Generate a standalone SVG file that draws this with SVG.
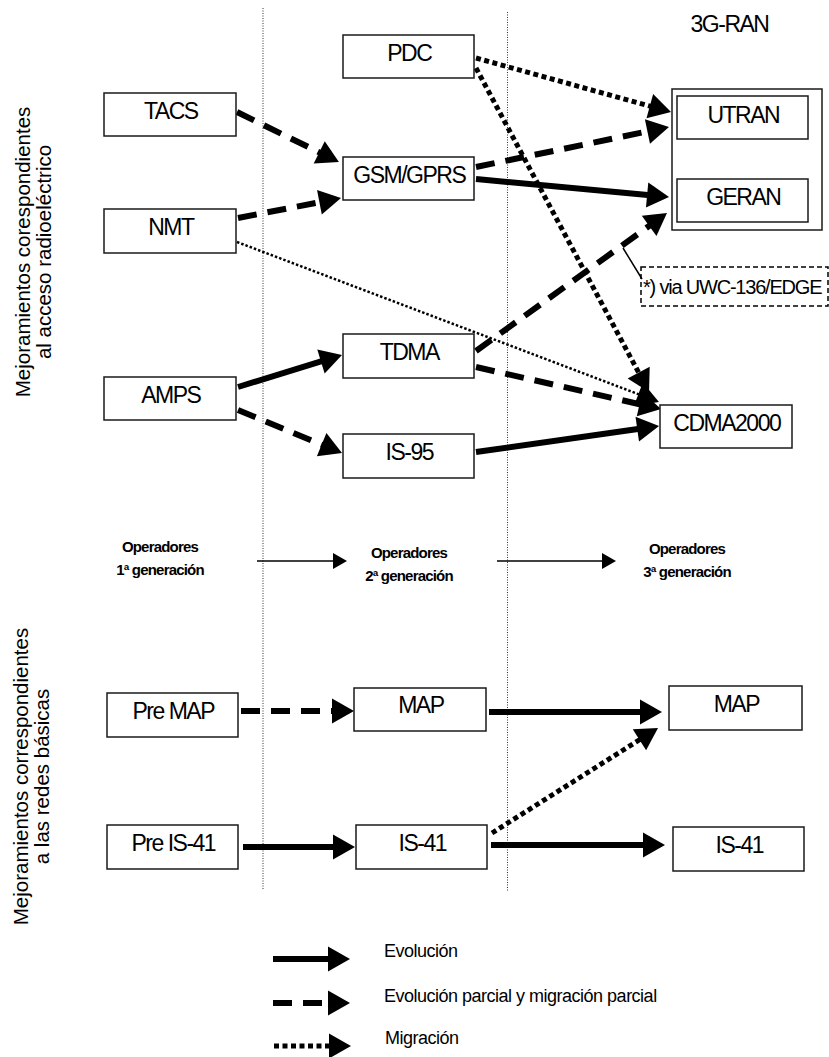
<svg xmlns="http://www.w3.org/2000/svg" width="829" height="1057" viewBox="0 0 829 1057">
<style>
  .box { fill: #fff; stroke: #1a1a1a; stroke-width: 1.5; }
  .lbl { font-family: "Liberation Sans", Arial, sans-serif; font-size: 23px; letter-spacing: -1.5px; fill: #000; text-anchor: middle; }
  .side { font-family: "Liberation Sans", Arial, sans-serif; font-size: 20.5px; fill: #000; text-anchor: middle; }
  .op { font-family: "Liberation Sans", Arial, sans-serif; font-size: 15px; font-weight: bold; letter-spacing: -0.8px; fill: #000; text-anchor: middle; }
  .leg { font-family: "Liberation Sans", Arial, sans-serif; font-size: 18px; letter-spacing: -0.5px; fill: #000; }
  .note { font-family: "Liberation Sans", Arial, sans-serif; font-size: 20px; letter-spacing: -1.2px; fill: #000; }
  .solid { fill: none; stroke: #000; stroke-width: 6; }
  .dash { fill: none; stroke: #000; stroke-width: 6; stroke-dasharray: 19 11; }
  .dot { fill: none; stroke: #000; stroke-width: 5; stroke-dasharray: 5 3.5; }
  .thindot { fill: none; stroke: #000; stroke-width: 2.5; stroke-dasharray: 2.5 2; }
  .thin { fill: none; stroke: #000; stroke-width: 1.5; }
  .sep { fill: none; stroke: #333; stroke-width: 1; stroke-dasharray: 1 1.5; }
</style>
<defs>
  <marker id="ah" markerUnits="userSpaceOnUse" markerWidth="22" markerHeight="25" refX="6" refY="12.5" orient="auto" overflow="visible">
    <path d="M0,0 L22,12.5 L0,25 Z" fill="#000"/>
  </marker>
  <marker id="ahm" markerUnits="userSpaceOnUse" markerWidth="21" markerHeight="21" refX="5" refY="10.5" orient="auto" overflow="visible">
    <path d="M0,0 L21,10.5 L0,21 Z" fill="#000"/>
  </marker>
  <marker id="ahs" markerUnits="userSpaceOnUse" markerWidth="14" markerHeight="16" refX="4" refY="8" orient="auto" overflow="visible">
    <path d="M0,0 L14,8 L0,16 Z" fill="#000"/>
  </marker>
</defs>
<rect width="829" height="1057" fill="#fff"/>

<g id="separators">
  <line class="sep" x1="263" y1="8" x2="263" y2="890"/>
  <line class="sep" x1="507.5" y1="12" x2="507.5" y2="892"/>
</g>

<g id="side-labels">
  <text class="side" transform="translate(29.5,252) rotate(-90)"><tspan x="0" y="0">Mejoramientos corespondientes</tspan><tspan x="0" y="21">al acceso radioeléctrico</tspan></text>
  <text class="side" transform="translate(28,776.5) rotate(-90)"><tspan x="0" y="0">Mejoramientos correspondientes</tspan><tspan x="0" y="20.5">a las redes básicas</tspan></text>
</g>

<g id="connectors">
  <line class="dash" x1="237" y1="112" x2="324.6" y2="155" marker-end="url(#ah)"/>
  <line class="dash" x1="238" y1="218" x2="325.3" y2="201.1" marker-end="url(#ah)"/>
  <line class="thindot" x1="237" y1="242" x2="644" y2="396.3" marker-end="url(#ah)"/>
  <line class="dot" x1="476" y1="58" x2="655.6" y2="107.7" marker-end="url(#ah)"/>
  <line class="dot" x1="476" y1="68" x2="641.5" y2="377.9" marker-end="url(#ah)"/>
  <line class="dash" x1="476" y1="167" x2="653.3" y2="130.2" marker-end="url(#ah)"/>
  <line class="solid" x1="476" y1="179" x2="653.1" y2="195.5" marker-end="url(#ah)"/>
  <line class="solid" x1="743" y1="179" x2="743" y2="163" style="stroke-width:4" marker-end="url(#ahm)"/>
  <line class="solid" x1="238" y1="387" x2="326.7" y2="359.7" marker-end="url(#ah)"/>
  <line class="dash" x1="238" y1="410" x2="327.2" y2="446.9" marker-end="url(#ah)"/>
  <line class="dash" x1="476" y1="351" x2="654" y2="222.4" marker-end="url(#ah)"/>
  <line class="dash" x1="476" y1="367" x2="645.4" y2="405.5" marker-end="url(#ah)"/>
  <line class="solid" x1="476" y1="452" x2="643.2" y2="428.3" marker-end="url(#ah)"/>
  <line class="thin" x1="623" y1="248" x2="642" y2="279"/>
  <line class="thin" x1="257" y1="561" x2="337" y2="561" marker-end="url(#ahs)"/>
  <line class="thin" x1="497" y1="561" x2="606" y2="561" marker-end="url(#ahs)"/>
  <line class="dash" x1="241" y1="711" x2="338" y2="711" marker-end="url(#ah)"/>
  <line class="solid" x1="489" y1="712" x2="646" y2="712" marker-end="url(#ah)"/>
  <line class="solid" x1="243" y1="847" x2="339" y2="847" marker-end="url(#ah)"/>
  <line class="solid" x1="491" y1="845" x2="649" y2="845" marker-end="url(#ah)"/>
  <line class="dot" x1="492" y1="833" x2="644.5" y2="736.6" marker-end="url(#ah)"/>
</g>

<g id="n-pdc"><rect class="box" x="343" y="35" width="131" height="43"/><text class="lbl" x="409.3" y="61">PDC</text></g>
<g id="n-tacs"><rect class="box" x="104" y="93" width="132" height="43"/><text class="lbl" x="170.8" y="119">TACS</text></g>
<g id="n-gsm"><rect class="box" x="343" y="157" width="131" height="43"/><text class="lbl" x="409.3" y="183">GSM/GPRS</text></g>
<g id="n-nmt"><rect class="box" x="104" y="209" width="132" height="44"/><text class="lbl" x="170.8" y="235">NMT</text></g>
<g id="n-tdma"><rect class="box" x="343" y="334" width="131" height="44"/><text class="lbl" x="409.3" y="360">TDMA</text></g>
<g id="n-amps"><rect class="box" x="104" y="377" width="132" height="43"/><text class="lbl" x="170.8" y="403">AMPS</text></g>
<g id="n-is95"><rect class="box" x="343" y="434" width="131" height="44"/><text class="lbl" x="409.3" y="460">IS-95</text></g>

<g id="n-3gran">
  <text class="lbl" x="729.5" y="32">3G-RAN</text>
  <rect class="box" x="672" y="89" width="150" height="141"/>
</g>
<g id="n-utran"><rect class="box" x="677" y="96" width="131" height="43"/><text class="lbl" x="743.3" y="122.5">UTRAN</text></g>
<g id="n-geran"><rect class="box" x="677" y="179" width="131" height="43"/><text class="lbl" x="743.3" y="205">GERAN</text></g>
<g id="n-cdma2000"><rect class="box" x="660" y="405" width="132" height="43"/><text class="lbl" x="726.8" y="430.5">CDMA2000</text></g>

<g id="n-note">
  <rect x="641" y="267" width="187" height="39" fill="none" stroke="#000" stroke-width="1.5" stroke-dasharray="5 3"/>
  <text class="note" x="643" y="294">*) via UWC-136/EDGE</text>
</g>

<g id="n-op1"><text class="op" x="160" y="552">Operadores</text><text class="op" x="160" y="575">1ª generación</text></g>
<g id="n-op2"><text class="op" x="409" y="558">Operadores</text><text class="op" x="409" y="581">2ª generación</text></g>
<g id="n-op3"><text class="op" x="687" y="554">Operadores</text><text class="op" x="687" y="577">3ª generación</text></g>

<g id="n-premap"><rect class="box" x="107" y="693" width="131" height="44"/><text class="lbl" x="173.3" y="719">Pre MAP</text></g>
<g id="n-map2"><rect class="box" x="354" y="688" width="132" height="43"/><text class="lbl" x="420.8" y="713">MAP</text></g>
<g id="n-map3"><rect class="box" x="669" y="686" width="133" height="44"/><text class="lbl" x="736.3" y="712">MAP</text></g>
<g id="n-preis41"><rect class="box" x="107" y="825" width="131" height="44"/><text class="lbl" x="173.3" y="851">Pre IS-41</text></g>
<g id="n-is41b"><rect class="box" x="356" y="825" width="131" height="44"/><text class="lbl" x="422.3" y="851">IS-41</text></g>
<g id="n-is41c"><rect class="box" x="673" y="827" width="131" height="44"/><text class="lbl" x="739.3" y="853">IS-41</text></g>

<g id="legend">
  <line class="solid" x1="273" y1="959" x2="334" y2="959" marker-end="url(#ah)"/>
  <text class="leg" x="384" y="957">Evolución</text>
  <line class="dash" x1="273" y1="1003" x2="334" y2="1003" marker-end="url(#ah)"/>
  <text class="leg" x="384" y="1002">Evolución parcial y migración parcial</text>
  <line class="dot" x1="274" y1="1046" x2="335" y2="1046" marker-end="url(#ah)"/>
  <text class="leg" x="385" y="1044">Migración</text>
</g>
</svg>
